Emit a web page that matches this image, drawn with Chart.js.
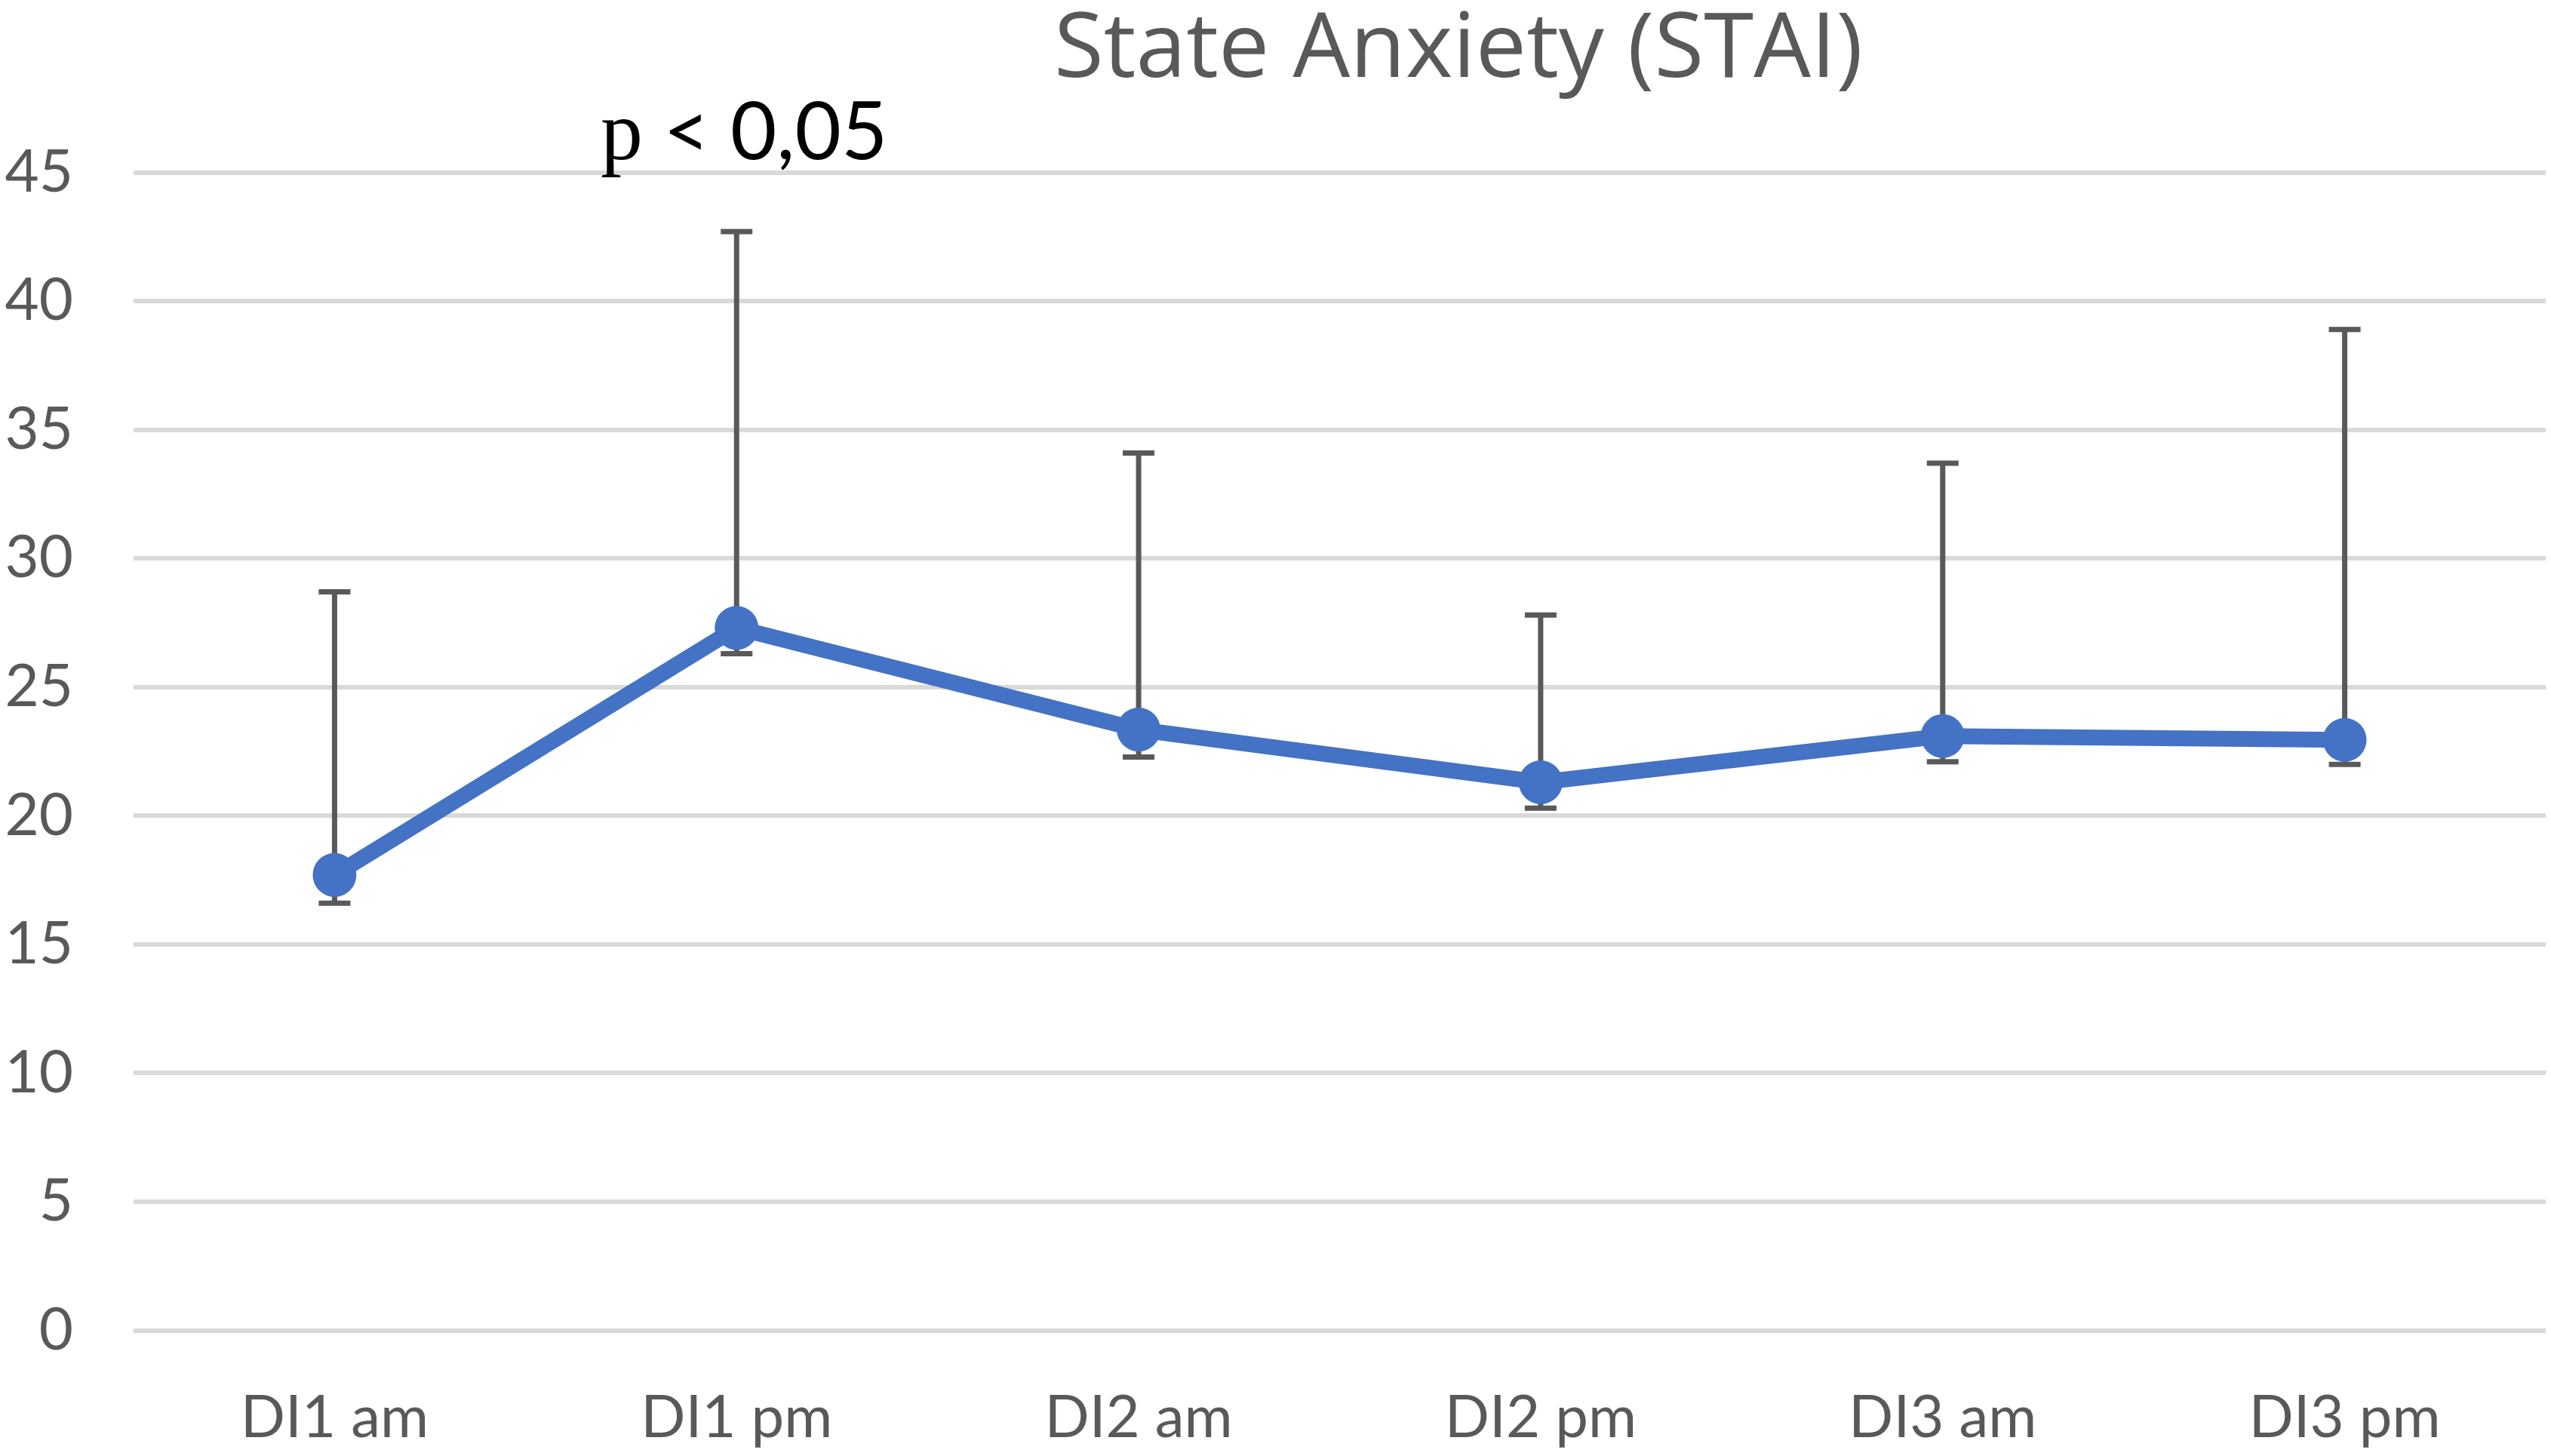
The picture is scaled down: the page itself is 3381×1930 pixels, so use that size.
<!DOCTYPE html>
<html>
<head>
<meta charset="utf-8">
<script src="https://cdn.jsdelivr.net/npm/chart.js@4.4.1/dist/chart.umd.min.js"></script>
<style>
  html, body { margin: 0; padding: 0; background: #ffffff; }
  canvas { display: block; }
</style>
</head>
<body>
<canvas id="c" width="3381" height="1930" style="width:3381px;height:1930px"></canvas>
<script>
// ---- data ----
const categories = ['DI1 am', 'DI1 pm', 'DI2 am', 'DI2 pm', 'DI3 am', 'DI3 pm'];
const meanValues = [17.7, 27.3, 23.35, 21.3, 23.1, 22.95];
const errorPlus  = [11.0, 15.4, 10.75, 6.5, 10.6, 15.95];
const errorMinus = [1.1, 1.0, 1.07, 1.0, 1.0, 0.95];
const yTicks = [0, 5, 10, 15, 20, 25, 30, 35, 40, 45];
const chartTitle = 'State Anxiety (STAI)';
const annotationText = ['p', ' < 0,05'];
const annotationCategory = 'DI1 pm';

// ---- plugins ----
const errorBarsPlugin = {
  id: 'errorBars',
  beforeDatasetsDraw(chart) {
    const { ctx, scales: { x, y } } = chart;
    ctx.save();
    ctx.strokeStyle = '#595959';
    ctx.lineWidth = 7;
    ctx.lineCap = 'butt';
    const capHalf = 21;
    meanValues.forEach((v, i) => {
      const px = x.getPixelForValue(i);
      const top = y.getPixelForValue(v + errorPlus[i]);
      const bot = y.getPixelForValue(v - errorMinus[i]);
      ctx.beginPath();
      ctx.moveTo(px, top);
      ctx.lineTo(px, bot);
      ctx.moveTo(px - capHalf, top);
      ctx.lineTo(px + capHalf, top);
      ctx.moveTo(px - capHalf, bot);
      ctx.lineTo(px + capHalf, bot);
      ctx.stroke();
    });
    ctx.restore();
  }
};

const titlePlugin = {
  id: 'customTitle',
  afterDraw(chart) {
    const { ctx } = chart;
    ctx.save();
    ctx.font = '400 100px "Open Sans"';
    const w100 = ctx.measureText(chartTitle).width;
    const size = 100 * 1072 / w100;
    ctx.font = '400 ' + size + 'px "Open Sans"';
    ctx.fillStyle = '#595959';
    ctx.textAlign = 'center';
    ctx.textBaseline = 'alphabetic';
    ctx.fillText(chartTitle, 1933, 102);
    ctx.restore();
  }
};

const annotationPlugin = {
  id: 'pAnnotation',
  afterDraw(chart) {
    const { ctx, scales: { x, y } } = chart;
    ctx.save();
    const cx = x.getPixelForValue(categories.indexOf(annotationCategory)) + 10;
    const baseY = y.getPixelForValue(45) - 18;
    const fontP = '400 112px "Liberation Serif"';
    const fontR = '400 106px Lato';
    ctx.font = fontP;
    const wP = ctx.measureText(annotationText[0]).width;
    ctx.font = fontR;
    const wR = ctx.measureText(annotationText[1]).width;
    let left = cx - (wP + wR) / 2;
    ctx.fillStyle = '#000000';
    ctx.textAlign = 'left';
    ctx.textBaseline = 'alphabetic';
    ctx.font = fontP;
    ctx.fillText(annotationText[0], left, baseY);
    ctx.font = fontR;
    ctx.fillText(annotationText[1], left + wP, baseY);
    ctx.restore();
  }
};

// ---- chart ----
const tickFont = { family: 'Lato', size: 78 };
new Chart(document.getElementById('c'), {
  type: 'line',
  data: {
    labels: categories,
    datasets: [{
      data: meanValues,
      borderColor: '#4472C4',
      backgroundColor: '#4472C4',
      borderWidth: 21,
      pointRadius: 29,
      pointBackgroundColor: '#4472C4',
      pointBorderColor: '#4472C4',
      pointBorderWidth: 0,
      tension: 0
    }]
  },
  options: {
    responsive: false,
    animation: false,
    devicePixelRatio: 1,
    layout: { autoPadding: false, padding: { top: 228.6, right: 7, left: 0, bottom: 0 } },
    plugins: { legend: { display: false }, tooltip: { enabled: false }, title: { display: false } },
    scales: {
      x: {
        offset: true,
        grid: { display: false, drawTicks: false },
        border: { display: false },
        ticks: { font: tickFont, color: '#595959', padding: 69, maxRotation: 0 },
        afterFit(s) { s.height = 166.4; s.paddingLeft = 0; s.paddingRight = 0; }
      },
      y: {
        min: 0,
        max: 45,
        afterBuildTicks(s) { s.ticks = yTicks.map(v => ({ value: v })); },
        ticks: { font: tickFont, color: '#595959', padding: 80 },
        grid: { color: '#d9d9d9', lineWidth: 6, drawTicks: false },
        border: { display: false },
        afterFit(s) { s.width = 177; s.paddingTop = 0; s.paddingBottom = 0; }
      }
    }
  },
  plugins: [errorBarsPlugin, titlePlugin, annotationPlugin]
});
</script>
</body>
</html>
